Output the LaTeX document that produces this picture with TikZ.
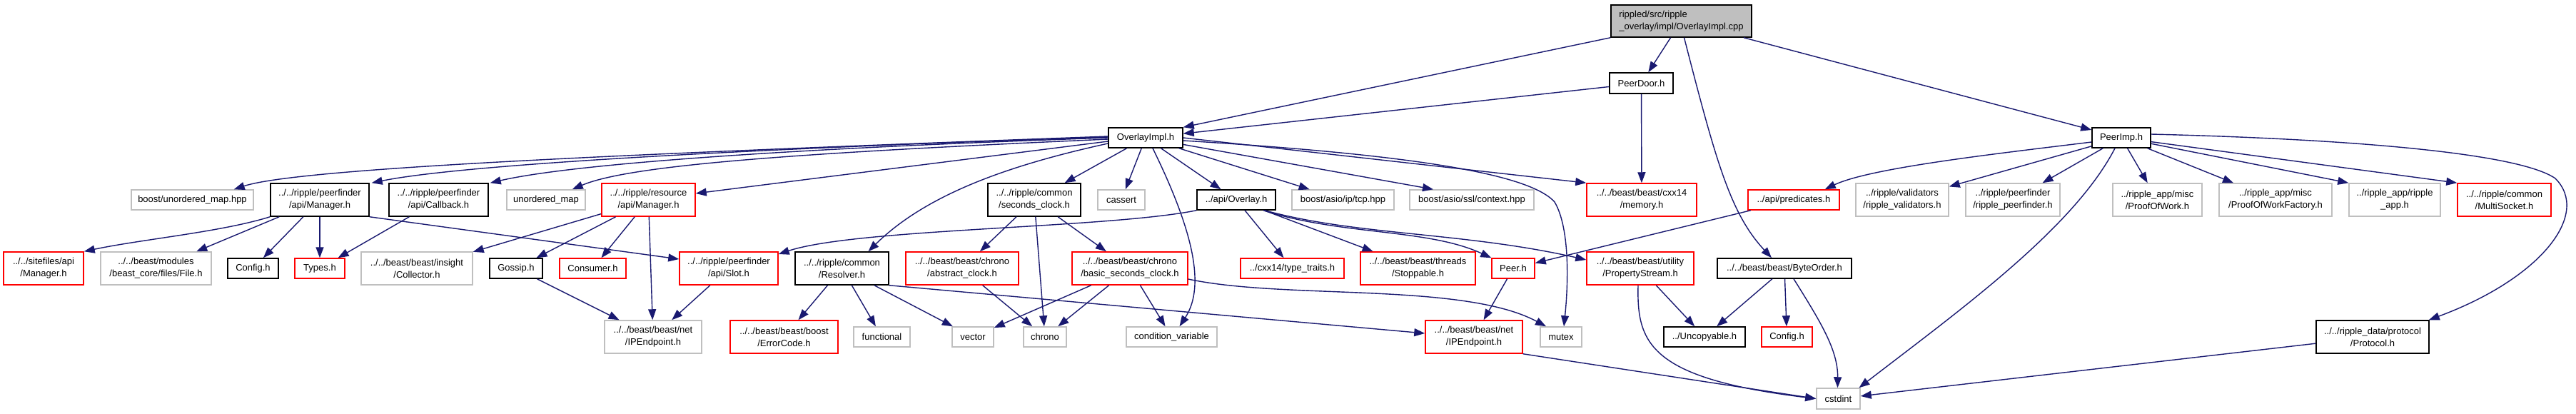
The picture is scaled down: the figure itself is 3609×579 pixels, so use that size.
\documentclass[tikz,border=0pt]{standalone}
\usepackage{fontspec}
\setmainfont{Liberation Sans}
\usetikzlibrary{arrows.meta}
\definecolor{edgeblue}{HTML}{191970}
\definecolor{graybd}{HTML}{BFBFBF}
\definecolor{redbd}{HTML}{FF0000}
\newcommand\dxnode[7]{\node[#1, minimum width={#4pt-#3pt}, minimum height={#6pt-#5pt}] (#2) at ({(#3+#4)/2},{(#5+#6)/2}) {#7};}
\tikzset{
  dxbase/.style={draw, line width=1.5pt, fill=white, inner sep=0pt, align=center, font=\fontsize{13}{17}\selectfont},
  blk/.style={dxbase, draw=black},
  gry/.style={dxbase, draw=graybd},
  rdb/.style={dxbase, draw=redbd},
  rootbox/.style={dxbase, draw=black, fill=graybd, align=left},
  dep/.style={draw=edgeblue, line width=1.4pt, -{Triangle[length=15pt,width=11pt]}},
}
\begin{document}
\begin{tikzpicture}[x=1pt,y=-1pt]
\useasboundingbox[fill=white] (0,0) rectangle (3609,579);
% row 0
\dxnode{rootbox}{root}{2257}{2454}{7}{52}{rippled/src/ripple\\\_overlay/impl/OverlayImpl.cpp}
% row 1
\dxnode{blk}{pdoor}{2255}{2344}{102}{131}{PeerDoor.h}
% row 2
\dxnode{blk}{ovl}{1553}{1657}{179}{207}{OverlayImpl.h}
\dxnode{blk}{pimp}{2931}{3013}{179}{207}{PeerImp.h}
% row 3
\dxnode{gry}{bum}{184}{355}{266}{294}{boost/unordered\_map.hpp}
\dxnode{blk}{pfm}{379}{517}{257}{303}{../../ripple/peerfinder\\/api/Manager.h}
\dxnode{blk}{pfc}{545}{684}{257}{303}{../../ripple/peerfinder\\/api/Callback.h}
\dxnode{gry}{um}{710}{820}{266}{294}{unordered\_map}
\dxnode{rdb}{rm}{843}{974}{257}{303}{../../ripple/resource\\/api/Manager.h}
\dxnode{blk}{sc}{1384}{1514}{257}{303}{../../ripple/common\\/seconds\_clock.h}
\dxnode{gry}{cas}{1538}{1604}{266}{294}{cassert}
\dxnode{blk}{ovh}{1677}{1787}{266}{294}{../api/Overlay.h}
\dxnode{gry}{tcp}{1810}{1953}{266}{294}{boost/asio/ip/tcp.hpp}
\dxnode{gry}{ssl}{1975}{2149}{266}{294}{boost/asio/ssl/context.hpp}
\dxnode{rdb}{mem}{2223}{2377}{257}{303}{../../beast/beast/cxx14\\/memory.h}
\dxnode{rdb}{pred}{2449}{2577}{266}{294}{../api/predicates.h}
\dxnode{gry}{val}{2600}{2730}{257}{303}{../ripple/validators\\/ripple\_validators.h}
\dxnode{gry}{rpf}{2754}{2886}{257}{303}{../ripple/peerfinder\\/ripple\_peerfinder.h}
\dxnode{gry}{pow}{2960}{3085}{257}{303}{../ripple\_app/misc\\/ProofOfWork.h}
\dxnode{gry}{powf}{3109}{3267}{257}{303}{../ripple\_app/misc\\/ProofOfWorkFactory.h}
\dxnode{gry}{rapp}{3291}{3419}{257}{303}{../ripple\_app/ripple\\\_app.h}
\dxnode{rdb}{ms}{3443}{3574}{257}{303}{../../ripple/common\\/MultiSocket.h}
% row 4
\dxnode{rdb}{sfm}{5}{117}{353}{399}{../../sitefiles/api\\/Manager.h}
\dxnode{gry}{file}{141}{296}{353}{399}{../../beast/modules\\/beast\_core/files/File.h}
\dxnode{blk}{cfg}{319}{390}{362}{390}{Config.h}
\dxnode{rdb}{typ}{413}{483}{362}{390}{Types.h}
\dxnode{gry}{col}{506}{662}{353}{399}{../../beast/beast/insight\\/Collector.h}
\dxnode{blk}{gos}{686}{760}{362}{390}{Gossip.h}
\dxnode{rdb}{con}{784}{877}{362}{390}{Consumer.h}
\dxnode{rdb}{slot}{952}{1090}{353}{399}{../../ripple/peerfinder\\/api/Slot.h}
\dxnode{blk}{res}{1114}{1245}{353}{399}{../../ripple/common\\/Resolver.h}
\dxnode{rdb}{absc}{1269}{1427}{353}{399}{../../beast/beast/chrono\\/abstract\_clock.h}
\dxnode{rdb}{bsc}{1502}{1664}{353}{399}{../../beast/beast/chrono\\/basic\_seconds\_clock.h}
\dxnode{rdb}{tt}{1738}{1883}{362}{390}{../cxx14/type\_traits.h}
\dxnode{rdb}{stop}{1906}{2067}{353}{399}{../../beast/beast/threads\\/Stoppable.h}
\dxnode{rdb}{peer}{2090}{2150}{362}{390}{Peer.h}
\dxnode{rdb}{ps}{2223}{2373}{353}{399}{../../beast/beast/utility\\/PropertyStream.h}
\dxnode{blk}{bo}{2406}{2594}{362}{390}{../../beast/beast/ByteOrder.h}
% row 5
\dxnode{gry}{ipg}{847}{983}{449}{495}{../../beast/beast/net\\/IPEndpoint.h}
\dxnode{rdb}{ec}{1023}{1174}{449}{495}{../../beast/beast/boost\\/ErrorCode.h}
\dxnode{gry}{fn}{1196}{1275}{458}{486}{functional}
\dxnode{gry}{vec}{1334}{1392}{458}{486}{vector}
\dxnode{gry}{chr}{1434}{1494}{458}{486}{chrono}
\dxnode{gry}{cv}{1578}{1705}{458}{486}{condition\_variable}
\dxnode{rdb}{ipr}{1997}{2133}{449}{495}{../../beast/beast/net\\/IPEndpoint.h}
\dxnode{gry}{mtx}{2158}{2216}{458}{486}{mutex}
\dxnode{blk}{unc}{2331}{2445}{458}{486}{../Uncopyable.h}
\dxnode{rdb}{cfgr}{2468}{2539}{458}{486}{Config.h}
\dxnode{blk}{proto}{3245}{3403}{449}{495}{../../ripple\_data/protocol\\/Protocol.h}
% row 6
\dxnode{gry}{cst}{2545}{2606}{544}{573}{cstdint}

% root edges
\draw[dep] (root.south west) -- (ovl.north east);
\draw[dep] (root) -- (pdoor);
\draw[dep] (root) -- (pimp);
\draw[dep] ([xshift=4pt]root.south) .. controls (2405,230) and (2425,300) .. ([xshift=-18pt]bo.north);
% PeerDoor
\draw[dep] (pdoor) -- (ovl);
\draw[dep] (pdoor) -- (mem);
% OverlayImpl
\draw[dep] ([yshift=2pt]ovl.west) .. controls (900,215) and (420,235) .. ([xshift=-28pt]bum.north east);
\draw[dep] ([yshift=1pt]ovl.west) .. controls (1000,210) and (640,232) .. ([xshift=3pt]pfm.north east);
\draw[dep] (ovl.west) .. controls (1100,208) and (800,230) .. ([xshift=2pt]pfc.north east);
\draw[dep] ([yshift=-2pt]ovl.west) .. controls (1100,215) and (880,232) .. ([xshift=-19pt]um.north east);
\draw[dep] ([yshift=-5pt]ovl.west) -- ([yshift=9pt]rm.east);
\draw[dep] (ovl) -- (sc);
\draw[dep] ([yshift=-8pt]ovl.west) .. controls (1420,230) and (1300,270) .. ([xshift=37pt]res.north);
\draw[dep] (ovl) -- (cas);
\draw[dep] ([xshift=10pt]ovl.south) .. controls (1670,320) and (1690,400) .. ([xshift=11pt]cv.north);
\draw[dep] (ovl) -- (ovh);
\draw[dep] (ovl) -- (tcp);
\draw[dep] (ovl) -- ([xshift=-54pt]ssl.north);
\draw[dep] (ovl.east) -- (mem.north west);
\draw[dep] ([yshift=-4pt]ovl.east) .. controls (1950,215) and (2140,240) .. (2178,283) .. controls (2200,320) and (2197,400) .. ([xshift=4pt]mtx.north);
% peerfinder Manager
\draw[dep] (pfm.south west) .. controls (310,325) and (200,335) .. (sfm.north east);
\draw[dep] (pfm) -- (file);
\draw[dep] (pfm) -- (cfg);
\draw[dep] (pfm) -- (typ);
\draw[dep] (pfm.south east) -- ([yshift=13pt]slot.west);
\draw[dep] (pfc) -- (typ);
% resource Manager
\draw[dep] (rm) -- (col);
\draw[dep] (rm) -- (gos);
\draw[dep] (rm) -- (con);
\draw[dep] (rm) -- (ipg);
\draw[dep] (gos) -- (ipg);
\draw[dep] (slot) -- (ipg);
% Overlay.h
\draw[dep] (ovh.south west) .. controls (1550,320) and (1200,320) .. ([yshift=20pt]slot.east);
\draw[dep] (ovh) -- (tt);
\draw[dep] (ovh) -- (stop);
\draw[dep] ([xshift=38pt]ovh.south) .. controls (1880,330) and (2000,320) .. (peer.north west);
\draw[dep] ([xshift=40pt]ovh.south) .. controls (1900,330) and (2050,325) .. ([yshift=12pt]ps.west);
% seconds_clock
\draw[dep] (sc) -- (absc);
\draw[dep] (sc) -- (chr);
\draw[dep] (sc) -- (bsc);
% Resolver
\draw[dep] (res) -- (ec);
\draw[dep] (res) -- (fn);
\draw[dep] (res) -- (vec);
\draw[dep] (res.south east) -- ([yshift=5pt]ipr.west);
\draw[dep] (absc) -- (chr);
% basic_seconds_clock
\draw[dep] (bsc) -- (vec);
\draw[dep] (bsc) -- (chr);
\draw[dep] (bsc) -- (cv);
\draw[dep] ([yshift=-15pt]bsc.east) .. controls (1800,420) and (2050,395) .. ([xshift=-21pt]mtx.north);
% Peer, predicates, IPEndpoint
\draw[dep] (peer) -- (ipr);
\draw[dep] (pred) -- (peer);
\draw[dep] (ipr.south east) -- (cst.west);
% PropertyStream
\draw[dep] (ps) -- (unc);
\draw[dep] ([xshift=-3pt]ps.south) .. controls (2293,480) and (2310,530) .. (cst.west);
% ByteOrder
\draw[dep] (bo) -- (unc);
\draw[dep] (bo) -- (cfgr);
\draw[dep] ([xshift=13pt]bo.south) .. controls (2550,450) and (2575,490) .. ([xshift=-1pt]cst.north);
% PeerImp
\draw[dep] ([yshift=-6pt]pimp.west) .. controls (2800,215) and (2620,235) .. ([xshift=-21pt]pred.north east);
\draw[dep] (pimp) -- (val);
\draw[dep] (pimp) -- (rpf);
\draw[dep] ([xshift=-9pt]pimp.south) .. controls (2905,320) and (2745,435) .. ([xshift=29pt]cst.north);
\draw[dep] (pimp) -- (pow);
\draw[dep] (pimp) -- (powf);
\draw[dep] (pimp) -- (rapp.north west);
\draw[dep] (pimp) -- (ms.north west);
\draw[dep] ([yshift=5pt]pimp.east) .. controls (3300,195) and (3530,215) .. (3580,250) .. controls (3630,300) and (3560,390) .. ([xshift=-1pt]proto.north east);
\draw[dep] (proto) -- (cst);
\end{tikzpicture}
\end{document}
